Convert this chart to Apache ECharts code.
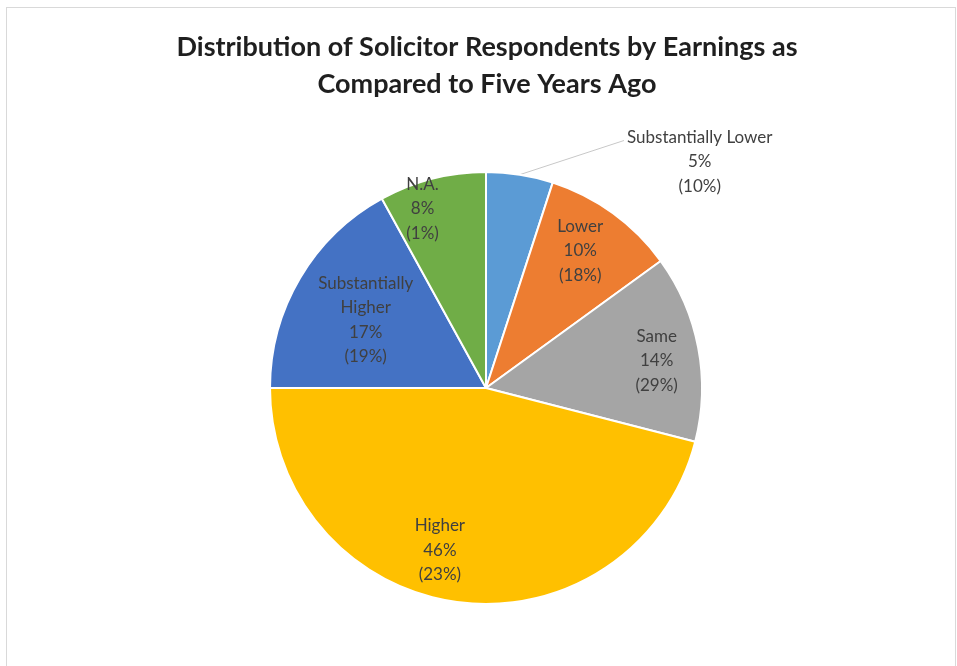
<!DOCTYPE html>
<html>
<head>
<meta charset="utf-8">
<script src="https://cdn.jsdelivr.net/npm/echarts@6/dist/echarts.min.js"></script>
<style>
  html, body { margin: 0; padding: 0; background: #ffffff; }
  #frame {
    position: absolute; left: 6px; top: 7px; width: 950px; height: 700px;
    box-sizing: border-box; border: 1px solid #d9d9d9; border-bottom: none;
  }
  #chart { position: absolute; left: 0; top: 0; width: 957px; height: 666px; }
</style>
</head>
<body>
<div id="frame"></div>
<div id="chart"></div>
<script>
// Earnings categories, clockwise from 12 o'clock
const categories = ['Substantially Lower', 'Lower', 'Same', 'Higher', 'Substantially Higher', 'N.A.'];
// Share of solicitor respondents (%)
const shares = [5, 10, 14, 46, 17, 8];
// Bracketed comparison figures shown under each share (%)
const bracketed = [10, 18, 29, 23, 19, 1];

const palette = ['#5B9BD5', '#ED7D31', '#A5A5A5', '#FFC000', '#4472C4', '#70AD47'];

// Pie geometry in pixels
const CX = 486, CY = 388, R = 216;

// Where each label sits: polar angle (deg, clockwise from top) and reach as a fraction of R
const labelSpots = [
  { angle: 43.4, reach: 1.44, leader: true },
  { angle: 34.5, reach: 0.77 },
  { angle: 81.0, reach: 0.80 },
  { angle: 195.9, reach: 0.78 },
  { angle: 299.5, reach: 0.64 },
  { angle: 340.5, reach: 0.88 }
];
const wrapName = [false, false, false, false, true, false];
const LINE_H = 24.5;

const chart = echarts.init(document.getElementById('chart'), null, { renderer: 'canvas' });

const data = categories.map((name, i) => ({
  name: name,
  value: shares[i],
  itemStyle: { color: palette[i] },
  label: { position: labelSpots[i].leader ? 'outside' : 'inside' },
  labelLine: { show: !!labelSpots[i].leader }
}));

chart.setOption({
  animation: false,
  title: {
    text: 'Distribution of Solicitor Respondents by Earnings as\nCompared to Five Years Ago',
    left: 487,
    textAlign: 'center',
    top: 29,
    padding: 0,
    textStyle: {
      fontFamily: 'Lato',
      fontSize: 27,
      fontWeight: 'bold',
      color: '#1f1f1f',
      lineHeight: 37
    }
  },
  series: [{
    type: 'pie',
    center: [CX, CY],
    radius: [0, R],
    startAngle: 90,
    clockwise: true,
    avoidLabelOverlap: false,
    itemStyle: { borderColor: '#ffffff', borderWidth: 2 },
    label: {
      show: true,
      color: '#404040',
      fontFamily: 'Lato',
      fontSize: 17,
      lineHeight: LINE_H,
      align: 'center',
      formatter: (p) => {
        const nm = wrapName[p.dataIndex] ? p.name.replace(' ', '\n') : p.name;
        return nm + '\n' + p.value + '%\n(' + bracketed[p.dataIndex] + '%)';
      }
    },
    labelLine: {
      show: false,
      length: 10,
      length2: 10,
      smooth: false,
      lineStyle: { color: '#c8c8c8', width: 1 }
    },
    labelLayout: (params) => {
      const s = labelSpots[params.dataIndex];
      const a = s.angle * Math.PI / 180;
      const x = CX + s.reach * R * Math.sin(a);
      const y = CY - s.reach * R * Math.cos(a);
      const out = { x: x, y: y, align: 'center', verticalAlign: 'middle', hideOverlap: false };
      if (s.leader) {
        // connect the slice edge (mid-angle) to the left end of the first text line
        let start = 0;
        for (let i = 0; i < params.dataIndex; i++) start += shares[i];
        const total = shares.reduce((t, v) => t + v, 0);
        const mid = (start + shares[params.dataIndex] / 2) / total * 2 * Math.PI;
        const sx = CX + R * Math.sin(mid), sy = CY - R * Math.cos(mid);
        const w = params.labelRect.width;
        const ex = x - w / 2 - 3, ey = y - LINE_H + 3;
        out.labelLinePoints = [[sx, sy], [ex, ey], [ex, ey]];
      }
      return out;
    },
    data: data
  }]
});
</script>
</body>
</html>
